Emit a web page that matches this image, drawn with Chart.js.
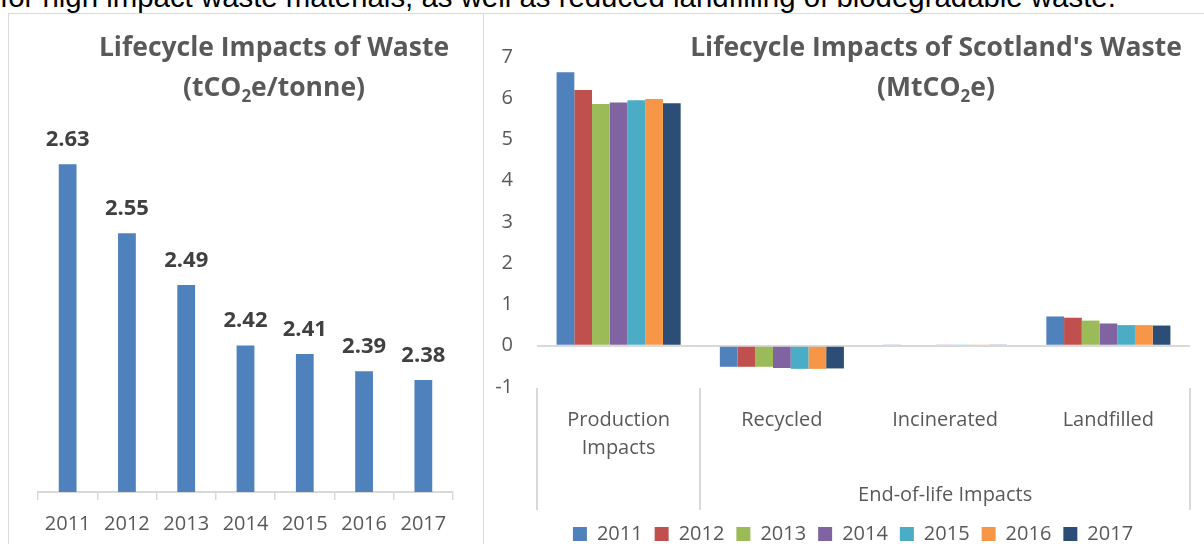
<!DOCTYPE html>
<html lang="en">
<head>
<meta charset="UTF-8">
<title>Lifecycle Impacts of Waste</title>
<style>
  body {
    margin: 0;
    background: #fff;
    width: 1204px;
    height: 544px;
    overflow: hidden;
    position: relative;
  }
  .lead {
    position: absolute;
    left: 0;
    top: -18px;
    font-family: 'Liberation Sans', Arial, sans-serif;
    font-size: 29.4px;
    line-height: 29.4px;
    white-space: nowrap;
    color: #000;
  }
  .frame {
    position: absolute;
    left: 8px;
    top: 13px;
    width: 1200px;
    height: 540px;
    border-top: 1px solid #d9d9d9;
    border-left: 1px solid #d9d9d9;
  }
  .divider {
    position: absolute;
    left: 483px;
    top: 13px;
    width: 1px;
    height: 540px;
    background: #d9d9d9;
  }
  #left { position: absolute; left: 9px; top: 14px; }
  #right { position: absolute; left: 484px; top: 14px; }
</style>
</head>
<body>
<div class="lead">for high impact waste materials, as well as reduced landfilling of biodegradable waste.</div>
<div class="frame"></div>
<div class="divider"></div>
<canvas id="left" width="473" height="530"></canvas>
<canvas id="right" width="720" height="540"></canvas>

<script src="https://cdn.jsdelivr.net/npm/chart.js"></script>
<script>
// ---- data ----
const years = ['2011', '2012', '2013', '2014', '2015', '2016', '2017'];
const intensity = [2.63, 2.55, 2.49, 2.42, 2.41, 2.39, 2.38]; // tCO2e/tonne

const stages = [['Production', 'Impacts'], 'Recycled', 'Incinerated', 'Landfilled'];
const stageGroup = 'End-of-life Impacts';
const production  = [6.63, 6.20, 5.86, 5.90, 5.95, 5.98, 5.88];
const recycled    = [-0.51, -0.51, -0.51, -0.54, -0.56, -0.56, -0.55];
const incinerated = [0.02, 0, 0, 0.02, 0.02, 0.02, 0.02];
const landfilled  = [0.71, 0.68, 0.61, 0.54, 0.50, 0.50, 0.49];

const yearColors = ['#4F81BD', '#C0504D', '#9BBB59', '#8064A2', '#4BACC6', '#F79646', '#2C4D75'];
const grey = '#595959';
const lineGrey = '#d9d9d9';
const fontFamily = '"Open Sans", Lato, sans-serif';

Chart.defaults.font.family = fontFamily;
Chart.defaults.color = grey;

// two-line bold title, second line has a subscript "2"
const titlePlugin = {
  id: 'subTitle',
  afterDraw(chart, args, opts) {
    const ctx = chart.ctx;
    const size = opts.size;
    const big = `bold ${size}px ${fontFamily}`;
    const small = `bold ${Math.round(size * 0.65)}px ${fontFamily}`;
    ctx.save();
    ctx.fillStyle = grey;
    ctx.textBaseline = 'alphabetic';
    ctx.font = big;
    ctx.textAlign = 'center';
    ctx.fillText(opts.line1, opts.x, opts.y1);

    const [a, sub, b] = opts.line2;
    ctx.textAlign = 'left';
    const wa = ctx.measureText(a).width;
    const wb = ctx.measureText(b).width;
    ctx.font = small;
    const ws = ctx.measureText(sub).width;
    let x = opts.x - (wa + ws + wb) / 2;
    ctx.font = big;
    ctx.fillText(a, x, opts.y2);
    x += wa;
    ctx.font = small;
    ctx.fillText(sub, x, opts.y2 + size * 0.22);
    x += ws;
    ctx.font = big;
    ctx.fillText(b, x, opts.y2);
    ctx.restore();
  }
};

// value labels above the bars of the left chart
const valueLabels = {
  id: 'valueLabels',
  afterDatasetsDraw(chart) {
    const ctx = chart.ctx;
    const meta = chart.getDatasetMeta(0);
    ctx.save();
    ctx.font = `bold 22px ${fontFamily}`;
    ctx.fillStyle = '#404040';
    ctx.textAlign = 'center';
    ctx.textBaseline = 'alphabetic';
    meta.data.forEach((bar, i) => {
      ctx.fillText(intensity[i].toFixed(2), bar.x, bar.y - 18);
    });
    ctx.restore();
  }
};

// second level of the category axis: separators + "End-of-life Impacts"
const groupAxis = {
  id: 'groupAxis',
  afterDraw(chart) {
    const ctx = chart.ctx;
    const xs = chart.scales.x;
    const area = chart.chartArea;
    const edges = [xs.left, (xs.getPixelForValue(0) + xs.getPixelForValue(1)) / 2, xs.right];
    ctx.save();
    ctx.strokeStyle = lineGrey;
    ctx.lineWidth = 2;
    edges.forEach(x => {
      ctx.beginPath();
      ctx.moveTo(Math.round(x), area.bottom + 1);
      ctx.lineTo(Math.round(x), area.bottom + 123);
      ctx.stroke();
    });
    ctx.font = `20px ${fontFamily}`;
    ctx.fillStyle = grey;
    ctx.textAlign = 'center';
    ctx.textBaseline = 'alphabetic';
    ctx.fillText(stageGroup, (edges[1] + edges[2]) / 2, area.bottom + 114);
    ctx.restore();
  }
};

// legend sits a little right of the canvas centre in the original
const legendShift = {
  id: 'legendShift',
  afterLayout(chart, args, opts) {
    const lg = chart.legend;
    lg.left += opts.dx;
    lg.right += opts.dx;
  }
};

// ---- left chart ----
new Chart(document.getElementById('left'), {
  type: 'bar',
  data: {
    labels: years,
    datasets: [{
      data: intensity,
      backgroundColor: yearColors[0],
      borderWidth: 0,
      barPercentage: 0.3,
      categoryPercentage: 1
    }]
  },
  options: {
    responsive: false,
    animation: false,
    layout: { padding: { left: 29, right: 29, top: 90, bottom: 0 } },
    plugins: {
      legend: { display: false },
      tooltip: { enabled: false },
      subTitle: {
        size: 26.5, x: 265, y1: 42, y2: 82,
        line1: 'Lifecycle Impacts of Waste',
        line2: ['(tCO', '2', 'e/tonne)']
      }
    },
    scales: {
      x: {
        grid: { drawOnChartArea: false, drawTicks: true, tickLength: 8, color: lineGrey, lineWidth: 1.5 },
        border: { display: true, color: lineGrey, width: 2 },
        ticks: { font: { size: 20 }, color: grey, padding: 12 },
        afterFit: s => { s.height = 52; }
      },
      y: { display: false, min: 2.25, max: 2.70 }
    }
  },
  plugins: [titlePlugin, valueLabels]
});

// ---- right chart ----
new Chart(document.getElementById('right'), {
  type: 'bar',
  data: {
    labels: stages,
    datasets: years.map((yr, i) => ({
      label: yr,
      data: [production[i], recycled[i], incinerated[i], landfilled[i]],
      backgroundColor: yearColors[i],
      borderWidth: 0,
      barPercentage: 1,
      categoryPercentage: 0.76
    }))
  },
  options: {
    responsive: false,
    animation: false,
    layout: { padding: { left: 4, right: 14, top: 43, bottom: 0 } },
    plugins: {
      tooltip: { enabled: false },
      legend: {
        position: 'bottom',
        labels: { boxWidth: 14, boxHeight: 14, padding: 12, font: { size: 20 }, color: grey }
      },
      legendShift: { dx: 14 },
      subTitle: {
        size: 26.5, x: 452, y1: 42, y2: 82,
        line1: "Lifecycle Impacts of Scotland's Waste",
        line2: ['(MtCO', '2', 'e)']
      }
    },
    scales: {
      x: {
        grid: { display: false },
        border: { display: false },
        ticks: { font: { size: 20, lineHeight: 1.4 }, color: grey, padding: 11, maxRotation: 0, autoSkip: false },
        afterFit: s => { s.height = 125; }
      },
      y: {
        min: -1,
        max: 7,
        ticks: { stepSize: 1, padding: 24, font: { size: 20 }, color: grey },
        grid: {
          drawTicks: false,
          lineWidth: 2,
          color: c => (c.tick && c.tick.value === 0 ? lineGrey : 'rgba(0,0,0,0)')
        },
        border: { display: false },
        afterFit: s => { s.width = 49; }
      }
    }
  },
  plugins: [titlePlugin, groupAxis, legendShift]
});
</script>
</body>
</html>
